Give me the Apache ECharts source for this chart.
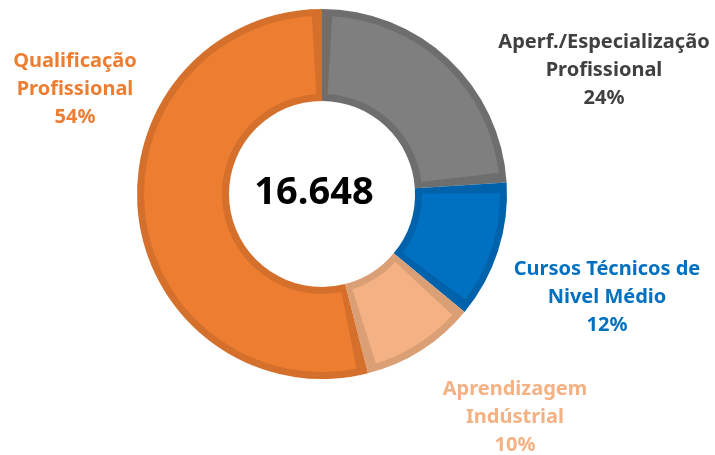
<!DOCTYPE html>
<html>
<head>
<meta charset="utf-8">
<script src="https://cdn.jsdelivr.net/npm/echarts@6/dist/echarts.min.js"></script>
<style>
    html, body { margin: 0; padding: 0; background: #fff; }
    #chart { width: 715px; height: 455px; }
</style>
</head>
<body>
<div id="chart"></div>
<script>
    // dados
    const categories = [
        'Aperf./Especialização\nProfissional',
        'Cursos Técnicos de\nNivel Médio',
        'Aprendizagem\nIndústrial',
        'Qualificação\nProfissional'
    ];
    const percents = [24, 12, 10, 54];
    const total = 16648;

    const fillColors = ['#7F7F7F', '#0070C0', '#F4B183', '#ED7D31'];
    const edgeColors = ['#6E6E6E', '#0062AA', '#DB9F76', '#D4702B'];
    const textColors = ['#404040', '#0070C0', '#F4B183', '#ED7D31'];
    // posição dos rótulos (centro do bloco de texto)
    const labelAt = [[604, 70], [607, 297], [515, 417], [75, 89]];

    const myChart = echarts.init(document.getElementById('chart'));
    const center = [322, 194];

    const option = {
        backgroundColor: '#fff',
        animation: false,
        title: {
            text: total.toLocaleString('pt-BR'),
            left: 309,
            top: 188,
            textAlign: 'center',
            textVerticalAlign: 'middle',
            textStyle: {
                fontFamily: 'Noto Sans',
                fontWeight: 'bold',
                fontSize: 38,
                color: '#000'
            }
        },
        series: [{
            // anel de fundo, cor da borda
            type: 'pie',
            center: center,
            radius: [93, 185],
            startAngle: 90,
            silent: true,
            label: { show: false },
            labelLine: { show: false },
            data: percents.map((v, i) => ({
                name: categories[i],
                value: v,
                itemStyle: { color: edgeColors[i] }
            }))
        }, {
            type: 'pie',
            center: center,
            radius: [100, 178],
            startAngle: 90,
            padAngle: 6.5,
            labelLine: { show: false },
            label: {
                show: true,
                position: 'outside',
                overflow: 'none',
                fontFamily: 'Noto Sans',
                fontWeight: 'bold',
                fontSize: 20,
                lineHeight: 28,
                align: 'center',
                formatter: p => p.name + '\n' + p.value + '%'
            },
            labelLayout: p => ({
                x: labelAt[p.dataIndex][0],
                y: labelAt[p.dataIndex][1],
                align: 'center',
                verticalAlign: 'middle'
            }),
            data: percents.map((v, i) => ({
                name: categories[i],
                value: v,
                itemStyle: { color: fillColors[i] },
                label: { color: textColors[i] }
            }))
        }]
    };
    myChart.setOption(option);
</script>
</body>
</html>
